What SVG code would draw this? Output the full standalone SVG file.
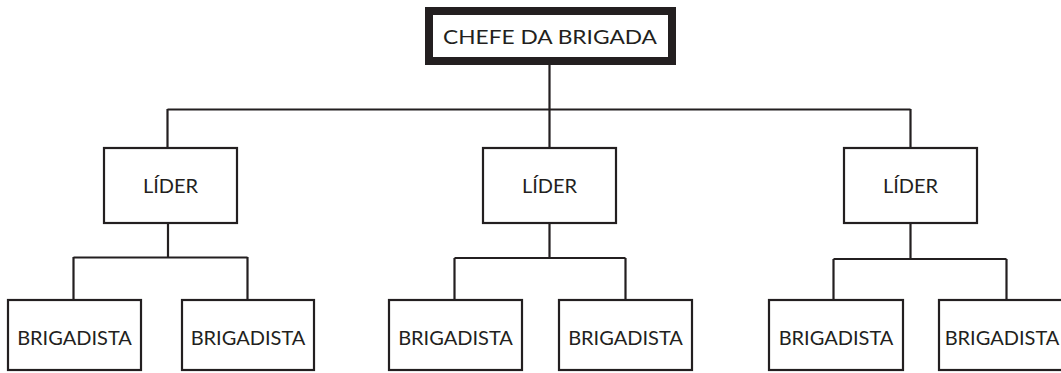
<svg xmlns="http://www.w3.org/2000/svg" width="1061" height="373" viewBox="0 0 1061 373">
<style>
.box{fill:#fff;stroke:#231f20;stroke-width:2.2}
.chief{fill:#fff;stroke:#231f20;stroke-width:8}
.ln{fill:none;stroke:#231f20;stroke-width:2.2}
text{font-family:Lato,"Open Sans",sans-serif;font-size:20px;fill:#231f20;text-anchor:middle}
</style>
<rect width="1061" height="373" fill="#fff"/>
<g id="connectors">
<path class="ln" d="M549.5 65V109.5M167.5 109.5H910.5M167.5 109V148M549.5 109V148M910.5 109V148"/>
<path class="ln" d="M168 223V257.5M73.5 257.5H247.5M73.5 257V300M247.5 257V300"/>
<path class="ln" d="M549.5 223V258M454.5 258H625.5M454.5 258V300M625.5 258V300"/>
<path class="ln" d="M910.5 223V259M833.5 259H1006.5M833.5 259V300M1006.5 259V300"/>
</g>
<g id="chefe"><rect class="chief" x="429" y="11" width="243" height="50"/><text x="550" y="44" textLength="214" lengthAdjust="spacingAndGlyphs">CHEFE DA BRIGADA</text></g>
<g id="lider1"><rect class="box" x="104" y="148" width="133" height="75"/><text x="170.5" y="193">LÍDER</text></g>
<g id="lider2"><rect class="box" x="483" y="148" width="133" height="75"/><text x="549.5" y="193">LÍDER</text></g>
<g id="lider3"><rect class="box" x="844" y="148" width="133" height="75"/><text x="910.5" y="193">LÍDER</text></g>
<g id="brig1"><rect class="box" x="8" y="300" width="133" height="70"/><text x="74.5" y="345">BRIGADISTA</text></g>
<g id="brig2"><rect class="box" x="182" y="300" width="132" height="70"/><text x="248" y="345">BRIGADISTA</text></g>
<g id="brig3"><rect class="box" x="389" y="300" width="133" height="70"/><text x="455.5" y="345">BRIGADISTA</text></g>
<g id="brig4"><rect class="box" x="559" y="300" width="133" height="70"/><text x="625.5" y="345">BRIGADISTA</text></g>
<g id="brig5"><rect class="box" x="769" y="300" width="134" height="70"/><text x="836" y="345">BRIGADISTA</text></g>
<g id="brig6"><rect class="box" x="939" y="300" width="134" height="70"/><text x="1002" y="345">BRIGADISTA</text></g>
</svg>
